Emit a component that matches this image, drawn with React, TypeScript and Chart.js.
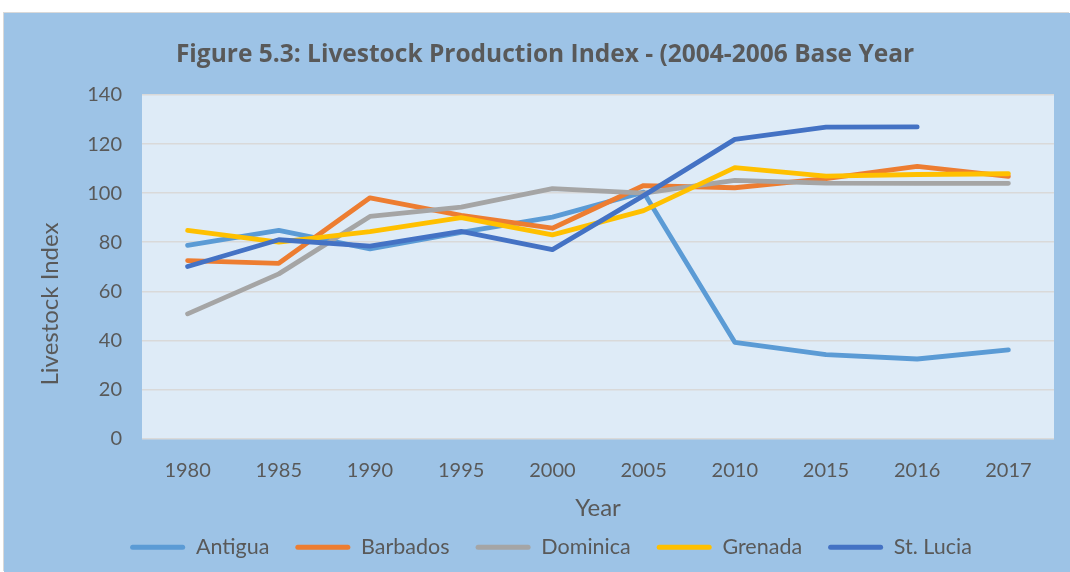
import React, { useEffect, useRef } from "react";
import { Chart, registerables } from "chart.js";

Chart.register(...registerables);

const years = ["1980", "1985", "1990", "1995", "2000", "2005", "2010", "2015", "2016", "2017"];
const antigua = [78.7, 84.8, 77.3, 84, 90.2, 100.4, 39.2, 34.2, 32.4, 36.1];
const barbados = [72.5, 71.4, 98.1, 90.9, 85.7, 103.1, 102.2, 105.9, 110.9, 106.8];
const dominica = [50.8, 67.1, 90.5, 94.3, 101.8, 100, 105.2, 104.1, 104, 104];
const grenada = [84.8, 80, 84.3, 90, 83, 92.9, 110.4, 106.9, 107.6, 107.9];
const stLucia = [70.1, 81, 78.4, 84.4, 77, 99, 121.9, 126.9, 127, null];
const seriesNames = ["Antigua", "Barbados", "Dominica", "Grenada", "St. Lucia"];
const seriesColors = ["#5B9BD5", "#ED7D31", "#A5A5A5", "#FFC000", "#4472C4"];
const yTicks = [0, 20, 40, 60, 80, 100, 120, 140];
const chartTitle = "Figure 5.3: Livestock Production Index - (2004-2006 Base Year";
const yTitle = "Livestock Index";

const FONT = "Lato";
const TEXT = "#595959";

export default function App() {
  const ref = useRef<HTMLCanvasElement | null>(null);
  useEffect(() => {
    if (!ref.current) return;
    const all = [antigua, barbados, dominica, grenada, stLucia];
    const decor = {
      id: "decor",
      beforeDraw(chart: any) {
        const { ctx, chartArea } = chart;
        ctx.save();
        ctx.fillStyle = "#DEEBF7";
        ctx.fillRect(chartArea.left, chartArea.top, chartArea.right - chartArea.left, chartArea.bottom - chartArea.top);
        ctx.restore();
      },
      afterDraw(chart: any) {
        const { ctx } = chart;
        ctx.save();
        ctx.fillStyle = TEXT;
        ctx.textAlign = "center";
        ctx.textBaseline = "middle";
        ctx.font = `bold 24.5px "Open Sans"`;
        ctx.fillText(chartTitle, 541, 42);
        ctx.translate(46, 291);
        ctx.rotate(-Math.PI / 2);
        ctx.font = `24px ${FONT}`;
        ctx.fillText(yTitle, 0, 0);
        ctx.restore();
      },
    };
    const chart = new Chart(ref.current, {
      type: "line",
      data: {
        labels: years,
        datasets: all.map((d, i) => ({
          label: seriesNames[i],
          data: d,
          borderColor: seriesColors[i],
          backgroundColor: seriesColors[i],
          borderWidth: 4.8,
          borderCapStyle: "round",
          borderJoinStyle: "round",
          pointRadius: 0,
          tension: 0,
          fill: false,
          order: all.length - 1 - i,
        })) as any,
      },
      options: {
        responsive: false,
        animation: false,
        devicePixelRatio: 1,
        layout: { padding: { left: 44, right: 16, top: 82, bottom: 4 } },
        plugins: {
          tooltip: { enabled: false },
          title: { display: false },
          legend: {
            position: "bottom",
            labels: {
              color: TEXT,
              font: { family: FONT, size: 21.5 },
              boxWidth: 55,
              boxHeight: 5,
              padding: 26,
              useBorderRadius: true,
              borderRadius: 2.5,
              sort: (a: any, b: any) => a.datasetIndex - b.datasetIndex,
              generateLabels: (c: any) =>
                Chart.defaults.plugins.legend.labels.generateLabels(c).map((l: any) => ({
                  ...l,
                  lineWidth: 0,
                  fillStyle: seriesColors[l.datasetIndex],
                })),
            },
          },
        },
        scales: {
          x: {
            offset: true,
            grid: { display: false, drawTicks: false },
            border: { display: false },
            ticks: { color: TEXT, font: { family: FONT, size: 20 }, padding: 20, maxRotation: 0 },
            title: {
              display: true,
              text: "Year",
              color: TEXT,
              font: { family: FONT, size: 24, lineHeight: 1.2 },
              padding: { top: 0, bottom: -12 },
            },
            afterFit: (s: any) => {
              s.height = 72;
            },
          },
          y: {
            min: 0,
            max: 140,
            afterBuildTicks: (s: any) => {
              s.ticks = yTicks.map((v) => ({ value: v }));
            },
            grid: { color: "#D9D9D9", lineWidth: 1.5, drawTicks: false },
            border: { display: false },
            ticks: { color: TEXT, font: { family: FONT, size: 20 }, padding: 20 },
            afterFit: (s: any) => {
              s.width = 94;
            },
          },
        },
      },
      plugins: [decor],
    });
    return () => chart.destroy();
  }, []);
  return (
    <div
      style={{
        position: "absolute",
        left: 4,
        top: 13,
        width: 1066,
        height: 559,
        background: "#9DC3E6",
        boxShadow: "-1px -1px 0 #D9D9D9",
      }}
    >
      <canvas ref={ref} width={1066} height={559} style={{ display: "block" }} />
    </div>
  );
}
